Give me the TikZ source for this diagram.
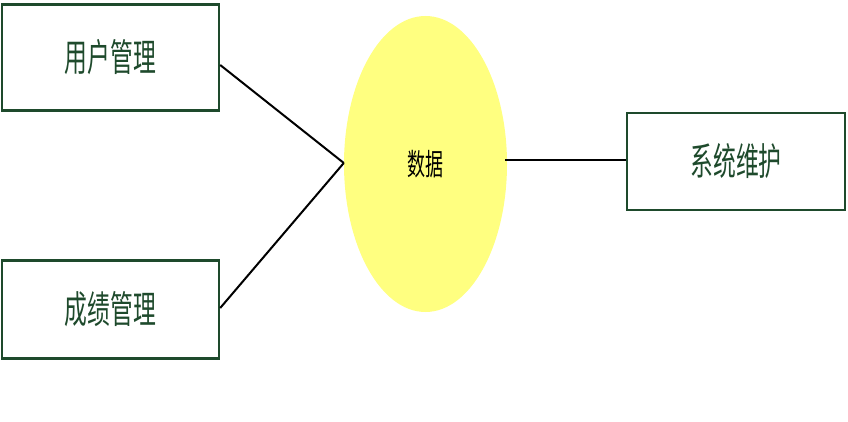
\documentclass[tikz,border=0pt]{standalone}
\usepackage{fontspec}
\usepackage{graphicx}
\newfontfamily\cjk{Noto Sans CJK SC}
\usetikzlibrary{positioning,calc,shapes.geometric}

\definecolor{boxgreen}{HTML}{1E4A2C}
\definecolor{datayellow}{HTML}{FFFF80}

\newcommand{\boxtext}[1]{\scalebox{0.6}[1]{\cjk\fontsize{38}{38}\selectfont #1}}
\newcommand{\datatext}[1]{\scalebox{0.6}[1]{\cjk\fontsize{30}{30}\selectfont #1}}

\begin{document}
\begin{tikzpicture}[
    x=1pt, y=-1pt,
    module/.style={draw=boxgreen, line width=2.4pt, fill=white, minimum width=217pt, minimum height=106pt, inner sep=0pt, text=boxgreen},
    store/.style={ellipse, fill=datayellow, minimum width=163pt, minimum height=296pt, inner sep=0pt, text=black},
    link/.style={draw, black, line width=2pt}
]
\useasboundingbox (0,0) rectangle (848,422);

% Define node positions
\node[module] (U) at (110.5,57.5) {\boxtext{用户管理}};
\node[module, minimum height=98pt] (S) at (110.5,309.5) {\boxtext{成绩管理}};
\node[module, minimum width=218pt, minimum height=97pt] (M) at (736,161.5) {\boxtext{系统维护}};
\node[store] (D) at (425.5,164) {\datatext{数据}};

% Anchor points on the sides
\coordinate (Uout) at ($(U.east)+(0,7.5)$);
\coordinate (Sout) at ($(S.east)+(0,-1.5)$);
\coordinate (Din) at ($(D.west)+(0,-1)$);
\coordinate (Dout) at ($(D.east)+(-2,-4)$);
\coordinate (Min) at (Dout -| M.west);

% Draw connections
\draw[link] (Uout) -- (Din);
\draw[link] (Sout) -- (Din);
\draw[link] (Dout) -- (Min);

\end{tikzpicture}
\end{document}
